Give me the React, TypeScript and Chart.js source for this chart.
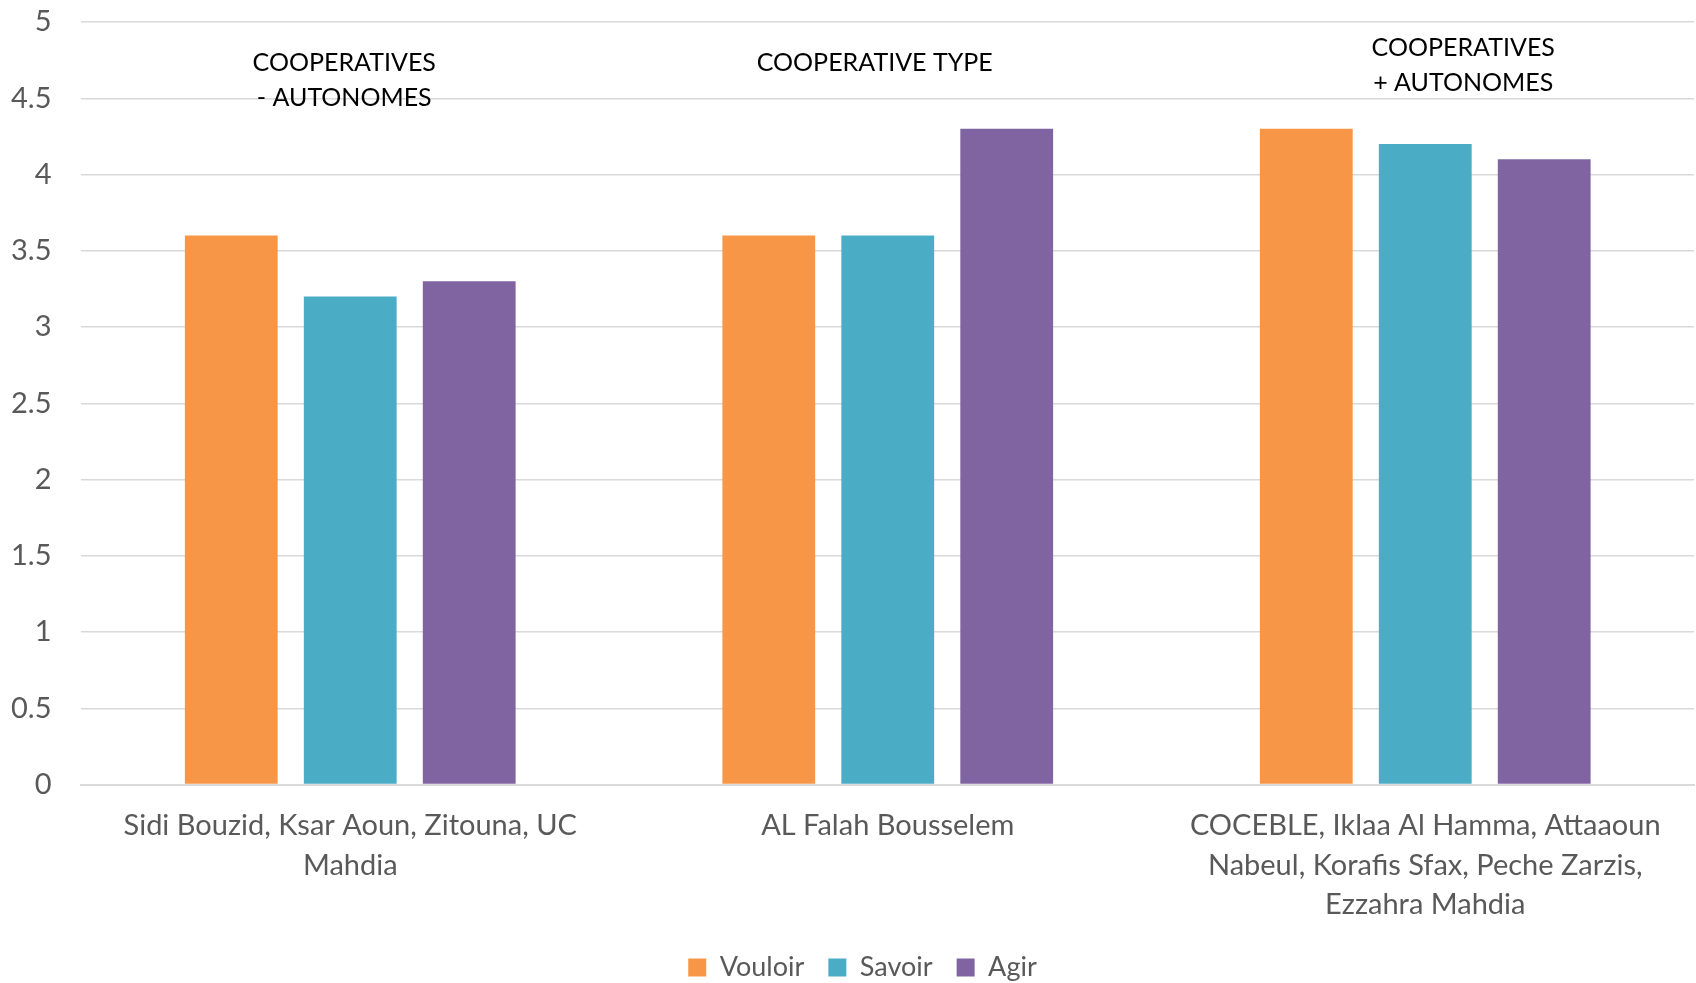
import React, { useEffect, useRef } from "react";
import { Chart, registerables } from "chart.js";

Chart.register(...registerables);

const categories: string[][] = [
  ["Sidi Bouzid, Ksar Aoun, Zitouna, UC", "Mahdia"],
  ["AL Falah Bousselem"],
  ["COCEBLE, Iklaa Al Hamma, Attaaoun", "Nabeul, Korafis Sfax, Peche Zarzis,", "Ezzahra Mahdia"],
];
const vouloir = [3.6, 3.6, 4.3];
const savoir = [3.2, 3.6, 4.2];
const agir = [3.3, 4.3, 4.1];
const groupNotes: string[][] = [
  ["COOPERATIVES", "- AUTONOMES"],
  ["COOPERATIVE TYPE"],
  ["COOPERATIVES", "+ AUTONOMES"],
];
const noteTopValues = [4.73, 4.73, 4.83];
const noteOffsets = [-6, -13, 38];

const FONT = "Lato, 'Open Sans', sans-serif";

const notesPlugin = {
  id: "groupNotes",
  afterLayout(chart: any) {
    const lg = chart.legend;
    if (lg) {
      lg.left += 10;
      lg.right += 10;
      lg.top -= 8;
      lg.bottom -= 8;
    }
  },
  afterDatasetsDraw(chart: any) {
    const { ctx, scales } = chart;
    const x = scales.x;
    const y = scales.y;
    ctx.save();
    ctx.fillStyle = "#000000";
    ctx.font = `25px ${FONT}`;
    ctx.textAlign = "center";
    ctx.textBaseline = "middle";
    groupNotes.forEach((lines, i) => {
      const cx = x.getPixelForValue(i) + noteOffsets[i];
      const cy = y.getPixelForValue(noteTopValues[i]);
      lines.forEach((ln, j) => {
        ctx.fillText(ln, cx, cy + j * 35);
      });
    });
    ctx.restore();
  },
};

export default function App() {
  const ref = useRef<HTMLCanvasElement | null>(null);
  useEffect(() => {
    document.body.style.margin = "0";
    const chart = new Chart(ref.current as HTMLCanvasElement, {
      type: "bar",
      data: {
        labels: categories as any,
        datasets: [
          { label: "Vouloir", data: vouloir, backgroundColor: "#F79646" },
          { label: "Savoir", data: savoir, backgroundColor: "#4BACC6" },
          { label: "Agir", data: agir, backgroundColor: "#8064A2" },
        ],
      },
      options: {
        animation: false,
        responsive: true,
        maintainAspectRatio: false,
        layout: { padding: { left: 11, right: 2, top: 22, bottom: -16 } },
        datasets: { bar: { barPercentage: 0.78, categoryPercentage: 0.664 } } as any,
        plugins: {
          legend: {
            position: "bottom",
            labels: {
              font: { family: FONT, size: 27 },
              color: "#595959",
              boxWidth: 18,
              boxHeight: 18,
              padding: 24,
            },
          },
          tooltip: { enabled: false },
        },
        scales: {
          x: {
            grid: { display: false },
            border: { display: true, color: "#d9d9d9", width: 2 },
            ticks: {
              font: { family: FONT, size: 29, lineHeight: 1.35 },
              color: "#595959",
              maxRotation: 0,
              autoSkip: false,
              padding: 14,
            },
          },
          y: {
            min: 0,
            max: 5,
            ticks: {
              stepSize: 0.5,
              font: { family: FONT, size: 29 },
              color: "#595959",
              padding: 0,
              callback: (v: any) => `${+v}`,
            },
            grid: {
              color: "#d9d9d9",
              lineWidth: 1.5,
              drawTicks: true,
              tickLength: 30,
              tickColor: "rgba(0,0,0,0)",
            },
            border: { display: false },
          },
        },
      },
      plugins: [notesPlugin],
    });
    return () => chart.destroy();
  }, []);
  return (
    <div style={{ position: "fixed", left: 0, top: 0, width: "1696px", height: "983px", background: "#fff" }}>
      <canvas ref={ref} />
    </div>
  );
}
